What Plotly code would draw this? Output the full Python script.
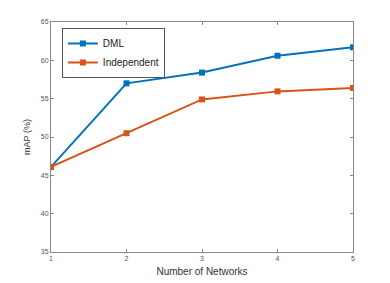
import plotly.graph_objects as go

networks = [1, 2, 3, 4, 5]
dml = [46.1, 57.0, 58.4, 60.6, 61.7]
independent = [46.1, 50.5, 54.9, 55.95, 56.4]
y_ticks = [35, 40, 45, 50, 55, 60, 65]

fig = go.Figure()
fig.add_trace(go.Scatter(x=networks, y=dml, name="DML", mode="lines+markers",
                         line=dict(color="#0072BD", width=2),
                         marker=dict(symbol="square", size=6, color="#0072BD")))
fig.add_trace(go.Scatter(x=networks, y=independent, name="Independent", mode="lines+markers",
                         line=dict(color="#D95319", width=2),
                         marker=dict(symbol="square", size=6, color="#D95319")))

axis_common = dict(showgrid=False, zeroline=False, showline=True, linecolor="#888888",
                   linewidth=1, mirror="ticks", ticks="inside", ticklen=3,
                   tickcolor="#888888", tickfont=dict(family="Liberation Sans", size=7, color="#555555"))

fig.update_xaxes(range=[1, 5], tickvals=networks, title=dict(text="Number of Networks",
                 font=dict(family="Liberation Sans", size=10, color="#333333"), standoff=6),
                 **axis_common)
fig.update_yaxes(range=[35, 65], tickvals=y_ticks, title=dict(text="mAP (%)",
                 font=dict(family="Liberation Sans", size=9, color="#333333"), standoff=8),
                 **axis_common)

fig.update_layout(
    width=382, height=275,
    margin=dict(l=43, r=37, t=14, b=31, autoexpand=False),
    plot_bgcolor="white", paper_bgcolor="white",
    showlegend=True,
    legend=dict(x=0.036, y=0.974, xanchor="left", yanchor="top",
                bordercolor="#555555", borderwidth=1, bgcolor="white",
                font=dict(family="Liberation Sans", size=10, color="#222222"),
                tracegroupgap=0, itemwidth=30),
)

fig.write_html("out.html")
